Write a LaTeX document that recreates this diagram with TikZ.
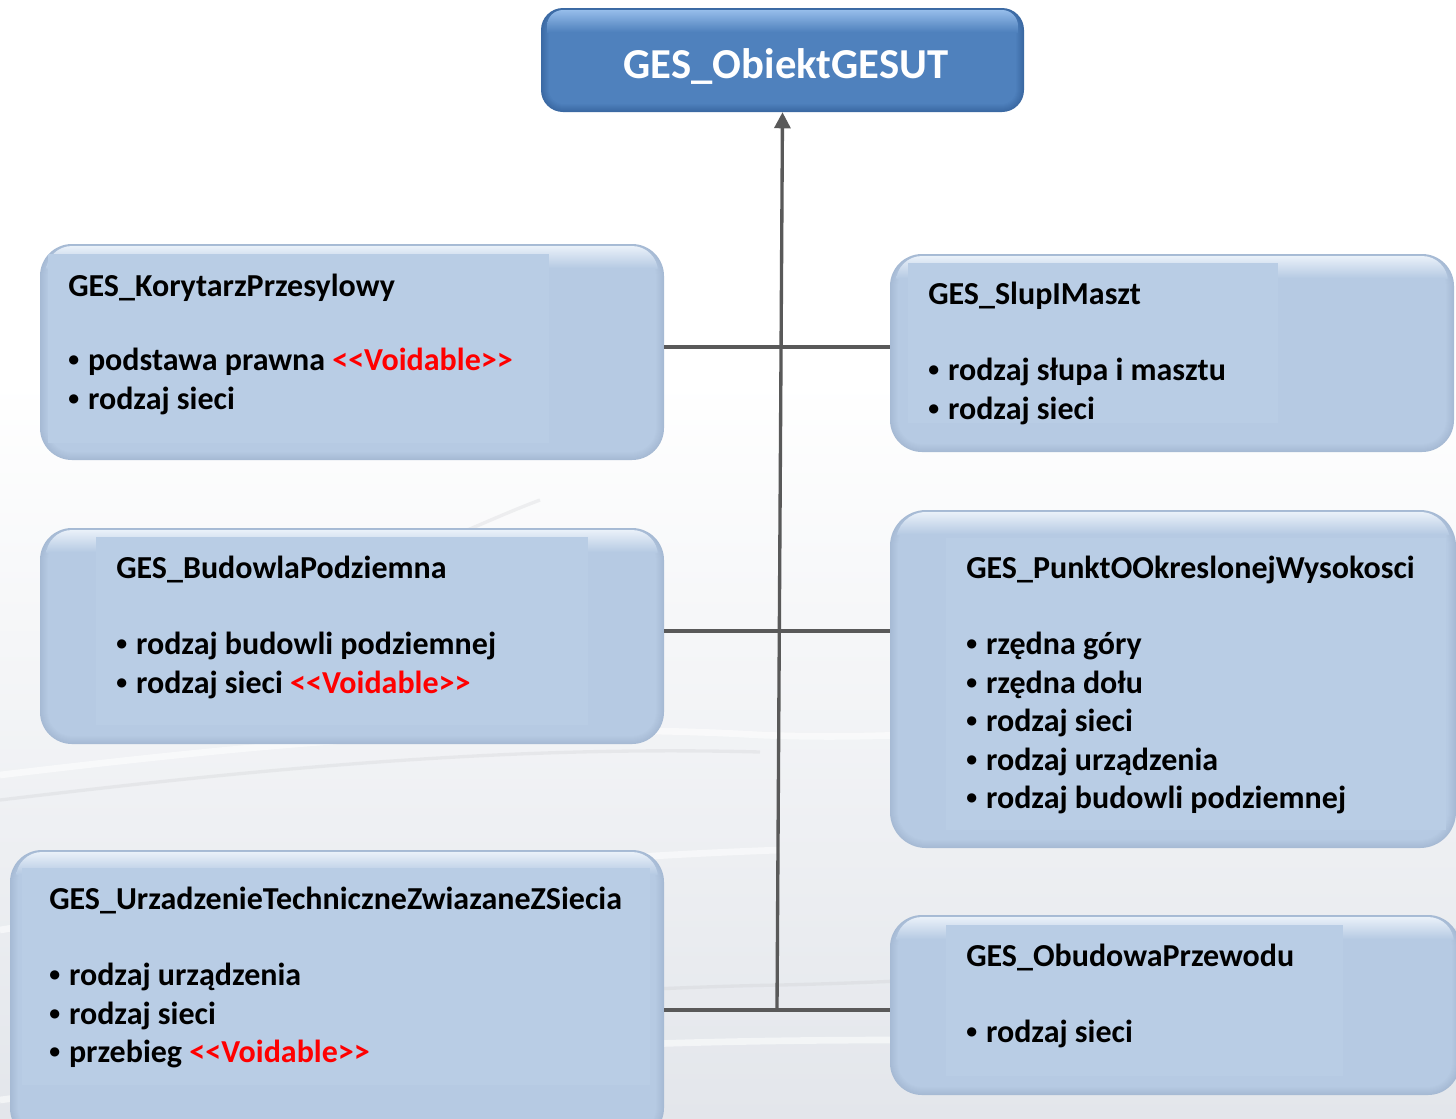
\documentclass[tikz,border=0pt]{standalone}
\usepackage{fontspec}
\usepackage{graphicx}
\setmainfont{Carlito}
\usetikzlibrary{arrows.meta,fit,calc}

\definecolor{bodyblue}{HTML}{B6CAE3}
\definecolor{innerblue}{HTML}{B9CDE5}
\definecolor{edgeblue}{HTML}{A6BAD4}
\definecolor{hiblue}{HTML}{EEF4FB}
\definecolor{headbody}{HTML}{4F81BD}
\definecolor{headedge}{HTML}{3B69A3}
\definecolor{headhi}{HTML}{9CC2EE}
\definecolor{linegray}{HTML}{595959}
\definecolor{voidred}{HTML}{FF0000}
\definecolor{bggray}{HTML}{E3E6EB}

% bevelled rounded box: #1 name, #2..#5 corners in px, #6 corner radius in px
\newcommand\bevelbox[6]{%
  \path (#2,#3) coordinate (#1-nw) (#4,#5) coordinate (#1-se);
  \foreach \i in {0,...,8}{%
    \pgfmathtruncatemacro\p{\i*12.5}%
    \pgfmathsetmacro\r{(#6-\i)*0.75}%
    \fill[bxbody!\p!bxedge, rounded corners=\r pt] (#2+\i,#3+\i) rectangle (#4-\i,#5-\i);
  }
  \begin{scope}
    \pgfmathsetmacro\rr{(#6-6)*0.75}%
    \clip[rounded corners=\rr pt] (#2+6,#3+2) rectangle (#4-6,#5-6);
    \shade[top color=bxhi, bottom color=bxbody] (#2,#3) rectangle (#4,#3+24);
  \end{scope}
  \node[fit=(#1-nw)(#1-se), inner sep=0pt] (#1) {};
}

\tikzset{
  conn/.style={draw=linegray, line width=2.5pt},
  txt/.style={anchor=base west, inner sep=0pt, font=\bfseries\fontsize{24}{28}\selectfont},
  headtxt/.style={anchor=base, inner sep=0pt, text=white, font=\bfseries\fontsize{32}{36}\selectfont},
  panel/.style={fill=innerblue},
  wave/.style={white, line width=5pt, opacity=0.55},
  wavedark/.style={bggray!60!gray, line width=2.5pt, opacity=0.2},
}
% list bullet and stereotype marker
\newcommand\bul{\raisebox{0.1em}{\scalebox{0.68}{•}}\hspace{0.28em}}
\newcommand\vd{{\color{voidred}<{}<Voidable>{}>}}

\begin{document}
\begin{tikzpicture}[x=0.75pt,y=-0.75pt]
\useasboundingbox (0,0) rectangle (1456,1118);
\clip (0,0) rectangle (1456,1118);

% background
\fill[white] (0,0) rectangle (1456,1118);
\shade[top color=white, bottom color=bggray] (0,380) rectangle (1456,1118);
\draw[wave] (0,775) .. controls (250,745) and (500,720) .. (760,735) .. controls (1000,745) and (1250,700) .. (1456,660);
\draw[wavedark] (0,800) .. controls (250,770) and (500,745) .. (760,752);
\draw[wave] (0,930) .. controls (250,890) and (500,860) .. (780,850);
\draw[wavedark] (20,1080) .. controls (250,1020) and (500,990) .. (780,985) .. controls (1000,980) and (1250,960) .. (1456,930);
\draw[wave] (0,1100) .. controls (300,1060) and (550,1040) .. (900,1040);
\draw[wavedark] (430,545) .. controls (470,530) and (500,515) .. (540,500);

% header box
\colorlet{bxbody}{headbody}\colorlet{bxedge}{headedge}\colorlet{bxhi}{headhi}
\bevelbox{g}{541}{8}{1024}{112}{22}
\node[headtxt] (g-t) at (786,78) {GES\_ObiektGESUT};

% class boxes
\colorlet{bxbody}{bodyblue}\colorlet{bxedge}{edgeblue}\colorlet{bxhi}{hiblue}

\bevelbox{k}{40}{244}{664}{460}{32}
\fill[panel] (48,254) rectangle (549,443);
\node[txt] (k-t) at (68,296) {GES\_KorytarzPrzesylowy};
\node[txt] (k-1) at (68,370) {\bul podstawa prawna \vd};
\node[txt] (k-2) at (68,409) {\bul rodzaj sieci};

\bevelbox{s}{890}{254}{1454}{452}{32}
\fill[panel] (908,263) rectangle (1278,423);
\node[txt] (s-t) at (928,304) {GES\_SlupIMaszt};
\node[txt] (s-1) at (928,380) {\bul rodzaj słupa i masztu};
\node[txt] (s-2) at (928,419) {\bul rodzaj sieci};

\bevelbox{b}{40}{528}{664}{744}{32}
\fill[panel] (96,537) rectangle (588,725);
\node[txt] (b-t) at (116,578) {GES\_BudowlaPodziemna};
\node[txt] (b-1) at (116,654) {\bul rodzaj budowli podziemnej};
\node[txt] (b-2) at (116,693) {\bul rodzaj sieci \vd};

\bevelbox{p}{890}{510}{1456}{848}{36}
\fill[panel] (946,538) rectangle (1446,830);
\node[txt] (p-t) at (966,578) {GES\_PunktOOkreslonejWysokosci};
\node[txt] (p-1) at (966,654) {\bul rzędna góry};
\node[txt] (p-2) at (966,693) {\bul rzędna dołu};
\node[txt] (p-3) at (966,731) {\bul rodzaj sieci};
\node[txt] (p-4) at (966,770) {\bul rodzaj urządzenia};
\node[txt] (p-5) at (966,808) {\bul rodzaj budowli podziemnej};

\bevelbox{u}{10}{850}{664}{1140}{32}
\fill[panel] (22,868) rectangle (650,1085);
\node[txt] (u-t) at (49,909) {GES\_UrzadzenieTechniczneZwiazaneZSiecia};
\node[txt] (u-1) at (49,985) {\bul rodzaj urządzenia};
\node[txt] (u-2) at (49,1024) {\bul rodzaj sieci};
\node[txt] (u-3) at (49,1062) {\bul przebieg \vd};

\bevelbox{o}{890}{915}{1460}{1095}{32}
\fill[panel] (946,925) rectangle (1343,1076);
\node[txt] (o-t) at (966,966) {GES\_ObudowaPrzewodu};
\node[txt] (o-1) at (966,1042) {\bul rodzaj sieci};

% junctions on the trunk
\coordinate (j1) at (780,347);
\coordinate (j2) at (779,631);
\coordinate (j3) at (777,1010);

% connectors
\draw[conn] (k.east |- j1) -- (s.west |- j1);
\draw[conn] (b.east |- j2) -- (p.west |- j2);
\draw[conn] (u.east |- j3) -- (o.west |- j3);
\draw[conn, -{Triangle[length=12pt, width=12pt]}] ([yshift=1.2pt]j3) -- (g.south);
\end{tikzpicture}
\end{document}
